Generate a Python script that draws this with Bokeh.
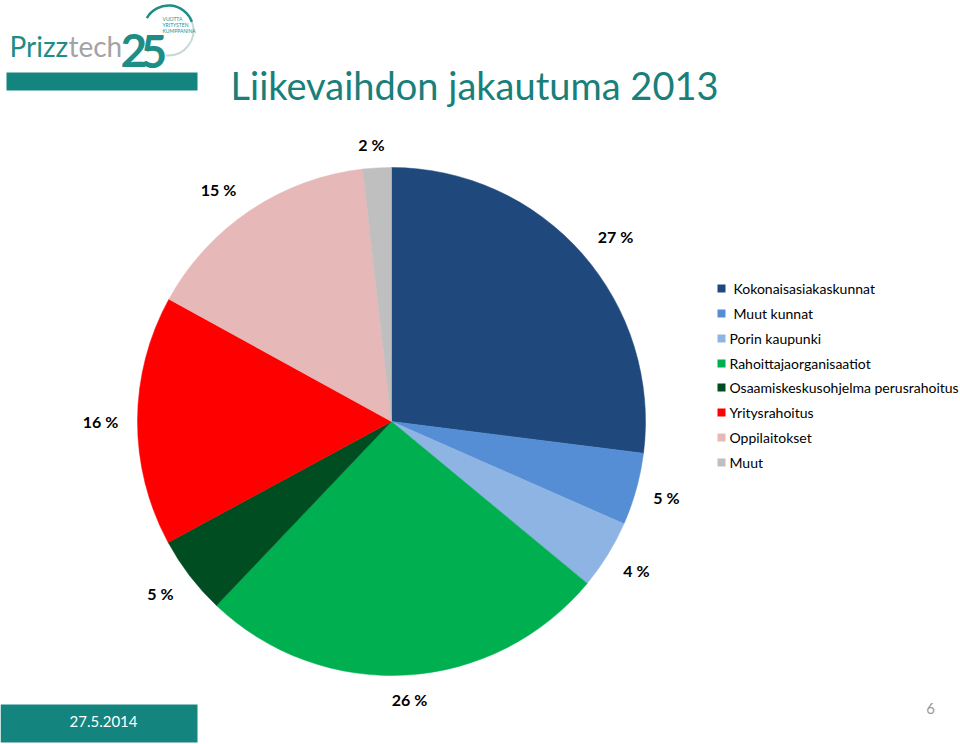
import math
from bokeh.plotting import figure
from bokeh.models import Range1d
from bokeh.core.properties import value
from bokeh.embed import file_html
from bokeh.resources import INLINE

# ---- data ----
categories = ["Kokonaisasiakaskunnat", "Muut kunnat", "Porin kaupunki",
              "Rahoittajaorganisaatiot", "Osaamiskeskusohjelma perusrahoitus",
              "Yritysrahoitus", "Oppilaitokset", "Muut"]
shares = [27.0, 4.6, 4.4, 26.1, 5.0, 15.9, 15.2, 1.8]
pct_labels = ["27 %", "5 %", "4 %", "26 %", "5 %", "16 %", "15 %", "2 %"]
colors = ["#1F497D", "#558ED5", "#8EB4E3", "#00B050", "#004D22",
          "#FF0000", "#E6B9B8", "#BFBFBF"]
title = "Liikevaihdon jakautuma 2013"
date_text = "27.5.2014"
page_no = "6"

# ---- layout (pixel coords, y measured from top) ----
W, H = 960, 744
def Y(y):
    return H - y

TEAL = "#13847E"
FONT = "Lato"

p = figure(width=W, height=H, output_backend="svg", toolbar_location=None,
           x_range=Range1d(0, W), y_range=Range1d(0, H), min_border=0)
p.axis.visible = False
p.grid.visible = False
p.outline_line_color = None
p.background_fill_color = "white"
p.border_fill_color = "white"

# pie
cx, cy, r = 391, 421, 254
total = sum(shares)
cum = 0.0
starts, ends = [], []
for s in shares:
    a0 = math.pi / 2 - 2 * math.pi * cum / total
    cum += s
    a1 = math.pi / 2 - 2 * math.pi * cum / total
    starts.append(a0)
    ends.append(a1)
p.wedge(x=[cx] * len(shares), y=[Y(cy)] * len(shares), radius=r,
        start_angle=starts, end_angle=ends, direction="clock",
        fill_color=colors, line_color=colors, line_width=0.5)

# slice labels
label_pos = [(615, 236), (666, 497), (636, 570), (409, 699), (160, 593),
             (100, 421), (218, 189), (371, 144)]
p.text(x=[q[0] for q in label_pos], y=[Y(q[1]) for q in label_pos],
       text=pct_labels, text_align="center", text_baseline="middle",
       text_font=value(FONT), text_font_size="16px", text_font_style="bold",
       text_color="#000000")

# legend
leg_y = [288, 313, 338, 363, 387, 412, 437, 462]
leg_tx = [733, 733, 729, 729, 729, 729, 729, 729]
p.rect(x=[721] * 8, y=[Y(v) for v in leg_y], width=8, height=8,
       fill_color=colors, line_color=None)
p.text(x=leg_tx, y=[Y(v) for v in leg_y], text=categories,
       text_baseline="middle", text_font=value(FONT), text_font_size="14px",
       text_color="#000000")

# title + decorative bar
p.quad(left=[6], right=[197], top=[Y(72)], bottom=[Y(90)],
       fill_color=TEAL, line_color=None)
p.text(x=[230], y=[Y(84)], text=[title], text_baseline="middle",
       text_font=value(FONT), text_font_size="38px", text_color="#1A7F7A")

# logo
p.text(x=[9], y=[Y(45)], text=["Prizz"], text_font=value(FONT),
       text_font_size="28px", text_color="#1E8D86", text_baseline="alphabetic")
p.text(x=[68], y=[Y(45)], text=["tech"], text_font=value(FONT),
       text_font_size="28px", text_color="#A3A3A3", text_baseline="alphabetic")
p.text(x=[120, 140], y=[Y(50), Y(51)], text=["2", "5"], text_font=value(FONT),
       text_font_size="46px", text_font_style="bold", text_color="#1E8D86",
       text_baseline="alphabetic")
p.arc(x=[168], y=[Y(30)], radius=25, start_angle=math.radians(150),
      end_angle=math.radians(20), direction="clock", line_color="#1E8D86",
      line_width=2.5)
p.arc(x=[168], y=[Y(30)], radius=25, start_angle=math.radians(20),
      end_angle=math.radians(-95), direction="clock", line_color="#C8D8D6",
      line_width=2)
p.text(x=[162, 162, 162], y=[Y(18), Y(24), Y(30)],
       text=["VUOTTA", "YRITYSTEN", "KUMPPANINA"], text_font=value(FONT),
       text_font_size="5px", text_color="#2A9088", text_baseline="middle")

# footer
p.quad(left=[0], right=[197], top=[Y(704)], bottom=[Y(742)],
       fill_color=TEAL, line_color=None)
p.text(x=[103], y=[Y(721)], text=[date_text], text_align="center",
       text_baseline="middle", text_font=value(FONT), text_font_size="15px",
       text_color="white")
p.text(x=[930], y=[Y(708)], text=[page_no], text_align="center",
       text_baseline="middle", text_font=value(FONT), text_font_size="15px",
       text_color="#9A9A9A")

open("out.html", "w").write(file_html(p, INLINE))
